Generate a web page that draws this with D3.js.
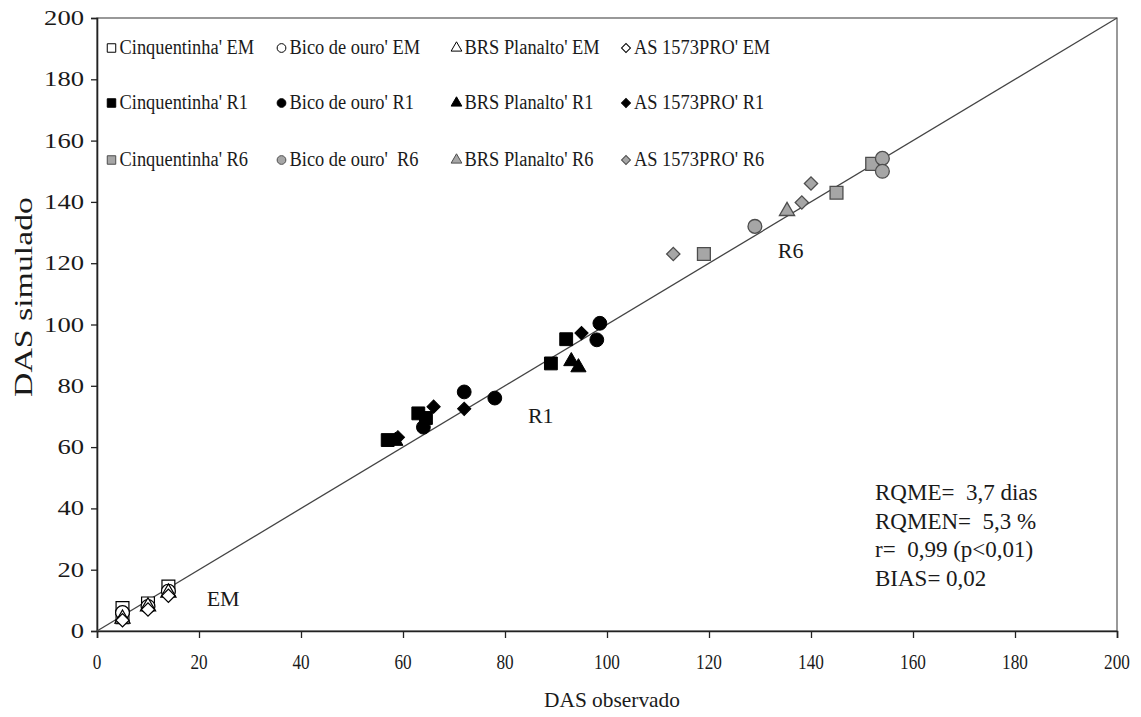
<!DOCTYPE html>
<html><head><meta charset="utf-8">
<script src="https://cdn.jsdelivr.net/npm/d3@7"></script>
<style>
body{margin:0;background:#fff;}
</style></head>
<body><svg id="chart" width="1141" height="717" font-family="'Liberation Serif', 'Times New Roman', Times, serif"></svg>
<script>
// ---- data ----
const cultivars = ["Cinquentinha'", "Bico de ouro'", "BRS Planalto'", "AS 1573PRO'"];
const stages = ["EM", "R1", "R6"];
const legendLabels = [
  ["Cinquentinha' EM", "Bico de ouro' EM", "BRS Planalto' EM", "AS 1573PRO' EM"],
  ["Cinquentinha' R1", "Bico de ouro' R1", "BRS Planalto' R1", "AS 1573PRO' R1"],
  ["Cinquentinha' R6", "Bico de ouro'  R6", "BRS Planalto' R6", "AS 1573PRO' R6"]
];
// observed / simulated per stage & cultivar
const emCinqObs = [5, 5, 10, 14],  emCinqSim = [7.5, 4.5, 9, 14.5];
const emBicoObs = [5, 10, 14],  emBicoSim = [6, 8, 13];
const emBrsObs  = [5, 10, 14],  emBrsSim  = [4, 8, 12.5];
const emAsObs   = [5, 10, 14],  emAsSim   = [3.5, 7, 11.5];
const r1CinqObs = [57, 63, 64.5, 89, 92], r1CinqSim = [62.3, 71, 69.5, 87.3, 95.2];
const r1BicoObs = [64, 72, 78, 98, 98.6], r1BicoSim = [66.5, 78, 76, 95, 100.4];
const r1BrsObs  = [58.5, 93, 94.4],       r1BrsSim  = [62, 88, 86];
const r1AsObs   = [59, 66, 72, 95],       r1AsSim   = [63.2, 73.2, 72.5, 97.2];
const r6CinqObs = [119, 145, 152],  r6CinqSim = [123, 143, 152.4];
const r6BicoObs = [129, 154, 154],  r6BicoSim = [132, 154.2, 150];
const r6BrsObs  = [135.3],          r6BrsSim  = [137];
const r6AsObs   = [113, 138.2, 140],r6AsSim   = [123, 139.8, 146];
const xTicks = [0,20,40,60,80,100,120,140,160,180,200];
const yTicks = [0,20,40,60,80,100,120,140,160,180,200];
const stageLabels = [{t:"EM", x:21.5, y:8.2},{t:"R1", x:84.5, y:67.8},{t:"R6", x:133.5, y:121.8}];
const statsLines = ["RQME=  3,7 dias", "RQMEN=  5,3 %", "r=  0,99 (p<0,01)", "BIAS= 0,02"];

// ---- layout ----
const svg = d3.select("#chart");
const L = 97, R = 1117, T = 18, B = 631;
const x = d3.scaleLinear().domain([0,200]).range([L,R]);
const y = d3.scaleLinear().domain([0,200]).range([B,T]);
const ink = "#1a1a1a";

const shapes = [d3.symbolSquare, d3.symbolCircle, d3.symbolTriangle, "diamond"];
const plotSizes = [165, 150, 100, 88];
const legSizes = [72, 60, 50, 40];
const styles = {
  EM: {fill:"#fff", stroke:"#000", sw:1.2},
  R1: {fill:"#000", stroke:"#000", sw:1},
  R6: {fill:"#a6a6a6", stroke:"#4d4d4d", sw:1.3}
};
function symPath(ci, size){
  if (shapes[ci] === "diamond") return d3.symbol(d3.symbolSquare, size)();
  return d3.symbol(shapes[ci], size)();
}
function symRot(ci){ return shapes[ci] === "diamond" ? " rotate(45)" : ""; }

// frame
svg.append("rect").attr("x",L).attr("y",T).attr("width",R-L).attr("height",B-T)
  .attr("fill","none").attr("stroke","#555").attr("stroke-width",1.2);

// axes
const xAxis = d3.axisBottom(x).tickValues(xTicks).tickSize(7).tickFormat("");
const yAxis = d3.axisLeft(y).tickValues(yTicks).tickSize(6).tickFormat("");
const gx = svg.append("g").attr("transform",`translate(0,${B})`).call(xAxis);
const gy = svg.append("g").attr("transform",`translate(${L},0)`).call(yAxis);
[gx,gy].forEach(g=>{g.selectAll("path").attr("stroke","#222").attr("stroke-width",1.6);
  g.selectAll("line").attr("stroke","#222").attr("stroke-width",1.3);});

// tick labels
svg.append("g").selectAll("text").data(xTicks).join("text")
  .attr("x",d=>x(d)).attr("y",669).attr("text-anchor","middle")
  .attr("font-size",22).attr("fill",ink)
  .attr("textLength",d=>String(d).length*8.6).attr("lengthAdjust","spacingAndGlyphs")
  .text(d=>d);
svg.append("g").selectAll("text").data(yTicks).join("text")
  .attr("x",d=>84 - String(d).length*13.3).attr("y",d=>y(d)+7)
  .attr("font-size",21.5).attr("fill",ink)
  .attr("textLength",d=>String(d).length*13.3).attr("lengthAdjust","spacingAndGlyphs")
  .text(d=>d);

// axis titles
svg.append("text").attr("x",612).attr("y",707).attr("text-anchor","middle")
  .attr("font-size",22).attr("fill",ink).attr("textLength",136).attr("lengthAdjust","spacingAndGlyphs")
  .text("DAS observado");
svg.append("text").attr("transform","translate(32,297) rotate(-90)")
  .attr("text-anchor","middle").attr("font-size",26).attr("fill",ink)
  .attr("textLength",200).attr("lengthAdjust","spacingAndGlyphs")
  .text("DAS simulado");

// 1:1 line
svg.append("line").attr("x1",x(0)).attr("y1",y(0)).attr("x2",x(200)).attr("y2",y(200))
  .attr("stroke","#444").attr("stroke-width",1.3);

// series
const series = [
  {st:"R6", ci:0, o:r6CinqObs, s:r6CinqSim},{st:"R6", ci:1, o:r6BicoObs, s:r6BicoSim},
  {st:"R6", ci:2, o:r6BrsObs, s:r6BrsSim},{st:"R6", ci:3, o:r6AsObs, s:r6AsSim},
  {st:"R1", ci:0, o:r1CinqObs, s:r1CinqSim},{st:"R1", ci:1, o:r1BicoObs, s:r1BicoSim},
  {st:"R1", ci:2, o:r1BrsObs, s:r1BrsSim},{st:"R1", ci:3, o:r1AsObs, s:r1AsSim},
  {st:"EM", ci:0, o:emCinqObs, s:emCinqSim},{st:"EM", ci:1, o:emBicoObs, s:emBicoSim},
  {st:"EM", ci:2, o:emBrsObs, s:emBrsSim},{st:"EM", ci:3, o:emAsObs, s:emAsSim}
];
series.forEach(se=>{
  const st = styles[se.st];
  const pts = se.o.map((v,i)=>[v, se.s[i]]);
  svg.append("g").selectAll("path").data(pts).join("path")
    .attr("d", symPath(se.ci, plotSizes[se.ci]))
    .attr("transform", d=>`translate(${x(d[0])},${y(d[1])})${symRot(se.ci)}`)
    .attr("fill", st.fill).attr("stroke", st.stroke).attr("stroke-width", st.sw);
});

// stage labels
svg.append("g").selectAll("text").data(stageLabels).join("text")
  .attr("x",d=>x(d.x)).attr("y",d=>y(d.y)).attr("font-size",22).attr("fill",ink).text(d=>d.t);

// legend
const colMarkX = [111.5, 281.5, 456.5, 626];
const rowY = [48, 103, 160];
legendLabels.forEach((row, ri)=>{
  const st = styles[stages[ri]];
  row.forEach((lab, ci)=>{
    const g = svg.append("g");
    g.append("path").attr("d", symPath(ci, legSizes[ci]))
      .attr("transform",`translate(${colMarkX[ci]},${rowY[ri]})${symRot(ci)}`)
      .attr("fill", st.fill).attr("stroke", st.stroke).attr("stroke-width", 1);
    const t = g.append("text").attr("x", colMarkX[ci]+8).attr("y", rowY[ri]+6)
      .attr("font-size",20).attr("fill",ink).attr("xml:space","preserve").text(lab);
    const w = t.node().getComputedTextLength();
    t.attr("textLength", w*0.92).attr("lengthAdjust","spacingAndGlyphs");
  });
});

// stats
svg.append("g").selectAll("text").data(statsLines).join("text")
  .attr("x",875).attr("y",(d,i)=>500 + i*28.5).attr("font-size",23).attr("fill",ink)
  .attr("xml:space","preserve")
  .text(d=>d);
</script></body></html>
